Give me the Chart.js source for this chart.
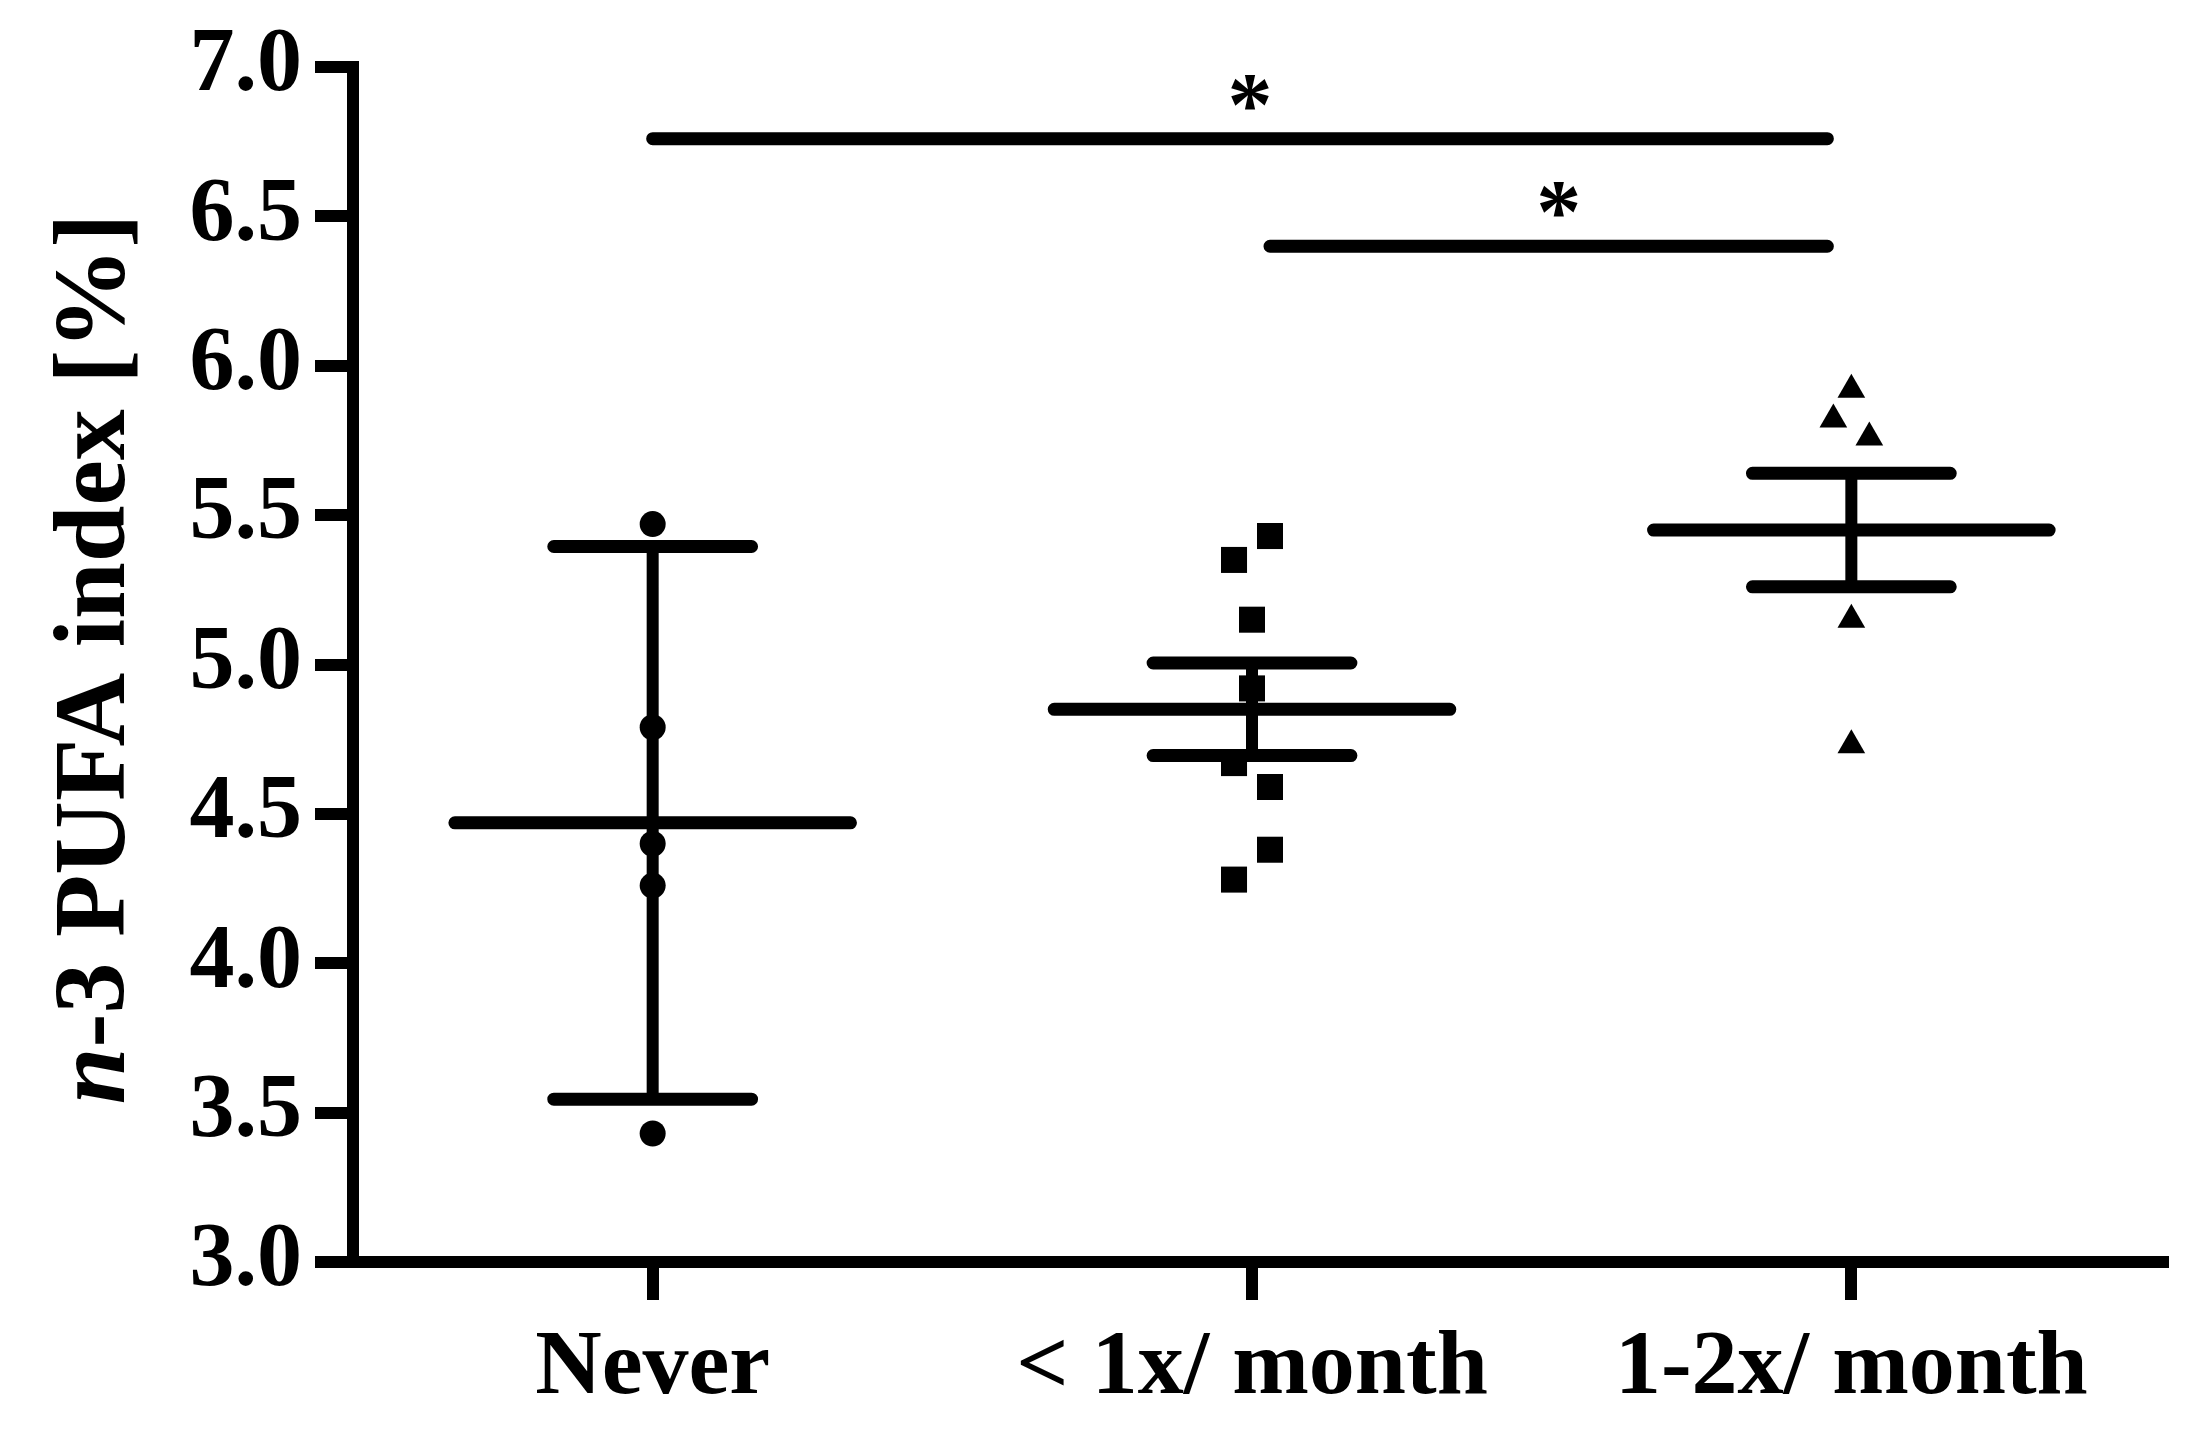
<!DOCTYPE html>
<html>
<head>
<meta charset="utf-8">
<script src="https://cdn.jsdelivr.net/npm/chart.js@4"></script>
<style>
html, body { margin: 0; padding: 0; background: #fff; }
#wrap { width: 2202px; height: 1435px; position: relative; }
</style>
</head>
<body>
<div id="wrap"><canvas id="chartcanvas"></canvas></div>
<script>
var categories = ["Never", "< 1x/ month", "1-2x/ month"];
var neverValues = [5.47, 4.79, 4.40, 4.26, 3.43];
var lessThanOnceValues = [5.43, 5.35, 5.15, 4.92, 4.67, 4.59, 4.38, 4.28];
var onceTwiceValues = [5.92, 5.82, 5.76, 5.15, 4.73];
var groupMeans = [4.47, 4.85, 5.45];
var groupErrors = [0.925, 0.155, 0.19];
var yTickValues = [3.0, 3.5, 4.0, 4.5, 5.0, 5.5, 6.0, 6.5, 7.0];
var sigFrom = [1, 2.03];
var sigTo = [2.96, 2.96];
var sigLevel = [6.76, 6.40];
var sigLabels = ["*", "*"];

var FONT = '"Liberation Serif", "Times New Roman", serif';
Chart.defaults.font.family = FONT;
Chart.defaults.color = "#000";

// little beeswarm: values closer than 0.12 share a row and get pushed sideways
function swarm(values, group) {
	var sorted = values.slice().sort(function(a, b) { return b - a; });
	var out = [], cluster = [], pairs = 0;
	function flush() {
		var slots;
		if (cluster.length == 1) slots = [0];
		else if (cluster.length == 2) { slots = pairs % 2 == 0 ? [1, -1] : [-1, 1]; pairs++; }
		else slots = [0, -1, 1, -2, 2].slice(0, cluster.length);
		cluster.forEach(function(v, i) { out.push({x: group + slots[i] * 0.03, y: v}); });
		cluster = [];
	}
	sorted.forEach(function(v) {
		if (cluster.length && cluster[cluster.length - 1] - v >= 0.12) flush();
		cluster.push(v);
	});
	flush();
	return out;
}

var meanLine = [], capLines = [], stemLines = [], sigLines = [];
groupMeans.forEach(function(m, i) {
	var g = i + 1, e = groupErrors[i];
	meanLine.push({x: g - 0.33, y: m}, {x: g + 0.33, y: m}, {x: g, y: null});
	capLines.push({x: g - 0.165, y: m + e}, {x: g + 0.165, y: m + e}, {x: g, y: null});
	capLines.push({x: g - 0.165, y: m - e}, {x: g + 0.165, y: m - e}, {x: g, y: null});
	stemLines.push({x: g, y: m + e}, {x: g, y: m - e}, {x: g, y: null});
});
sigFrom.forEach(function(f, i) {
	sigLines.push({x: f, y: sigLevel[i]}, {x: sigTo[i], y: sigLevel[i]}, {x: f, y: null});
});

function lineSet(data, width, cap) {
	return {
		type: "line", data: data, borderColor: "#000", borderWidth: width,
		borderCapStyle: cap, pointRadius: 0, fill: false, spanGaps: false, tension: 0
	};
}

function pointSet(data, style, r) {
	return {
		type: "scatter", data: data, pointStyle: style, pointRadius: r,
		backgroundColor: "#000", borderColor: "#000", borderWidth: 0, pointBorderWidth: 0
	};
}

var annotate = {
	id: "annotate",
	afterDraw: function(chart) {
		var ctx = chart.ctx, xs = chart.scales.x, ys = chart.scales.y;
		ctx.save();
		ctx.fillStyle = "#000";
		// significance stars
		ctx.font = "bold 90px " + FONT;
		ctx.textAlign = "center";
		ctx.textBaseline = "alphabetic";
		sigFrom.forEach(function(f, i) {
			var px = (xs.getPixelForValue(f) + xs.getPixelForValue(sigTo[i])) / 2 + 10;
			ctx.fillText(sigLabels[i], px, ys.getPixelForValue(sigLevel[i]) - 4);
		});
		// y title, italic n
		var parts = [["n", "italic bold 102px " + FONT], ["-3 PUFA index [%]", "bold 102px " + FONT]];
		var total = 0;
		parts.forEach(function(p) { ctx.font = p[1]; total += ctx.measureText(p[0]).width; });
		ctx.translate(124, 659);
		ctx.rotate(-Math.PI / 2);
		ctx.textAlign = "left";
		var pos = -total / 2;
		parts.forEach(function(p) {
			ctx.font = p[1];
			ctx.fillText(p[0], pos, 0);
			pos += ctx.measureText(p[0]).width;
		});
		ctx.restore();
	}
};

var ctx = document.getElementById("chartcanvas").getContext("2d");
var myChart = new Chart(ctx, {
	type: "scatter",
	data: {
		datasets: [
			lineSet(meanLine, 13, "round"),
			lineSet(capLines, 13, "round"),
			lineSet(stemLines, 12, "butt"),
			lineSet(sigLines, 13, "round"),
			pointSet(swarm(neverValues, 1), "circle", 13),
			pointSet(swarm(lessThanOnceValues, 2), "rect", 18.4),
			pointSet(swarm(onceTwiceValues, 3), "triangle", 16)
		]
	},
	options: {
		responsive: true,
		maintainAspectRatio: false,
		animation: false,
		events: [],
		layout: { padding: { top: 62, right: 39, left: 0, bottom: 0 } },
		plugins: { legend: { display: false }, tooltip: { enabled: false } },
		scales: {
			x: {
				type: "linear", min: 0.5, max: 3.52,
				afterBuildTicks: function(scale) {
					scale.ticks = categories.map(function(c, i) { return {value: i + 1}; });
				},
				afterFit: function(scale) { scale.height = 173; },
				ticks: {
					callback: function(v) { return categories[v - 1]; },
					font: { size: 92, weight: "bold" }, color: "#000", padding: 14, maxRotation: 0
				},
				grid: { drawOnChartArea: false, drawTicks: true, tickLength: 38, tickWidth: 12, tickColor: "#000", color: "#000", lineWidth: 12 },
				border: { display: true, width: 12, color: "#000" }
			},
			y: {
				type: "linear", min: 3, max: 7,
				afterBuildTicks: function(scale) {
					scale.ticks = yTickValues.map(function(v) { return {value: v}; });
				},
				afterFit: function(scale) { scale.width = 353; },
				ticks: {
					callback: function(v) { return v.toFixed(1); },
					font: { size: 90, weight: "bold" }, color: "#000", padding: 13
				},
				grid: { drawOnChartArea: false, drawTicks: true, tickLength: 38, tickWidth: 12, tickColor: "#000", color: "#000", lineWidth: 12 },
				border: { display: true, width: 12, color: "#000" }
			}
		}
	},
	plugins: [annotate]
});
</script>
</body>
</html>
